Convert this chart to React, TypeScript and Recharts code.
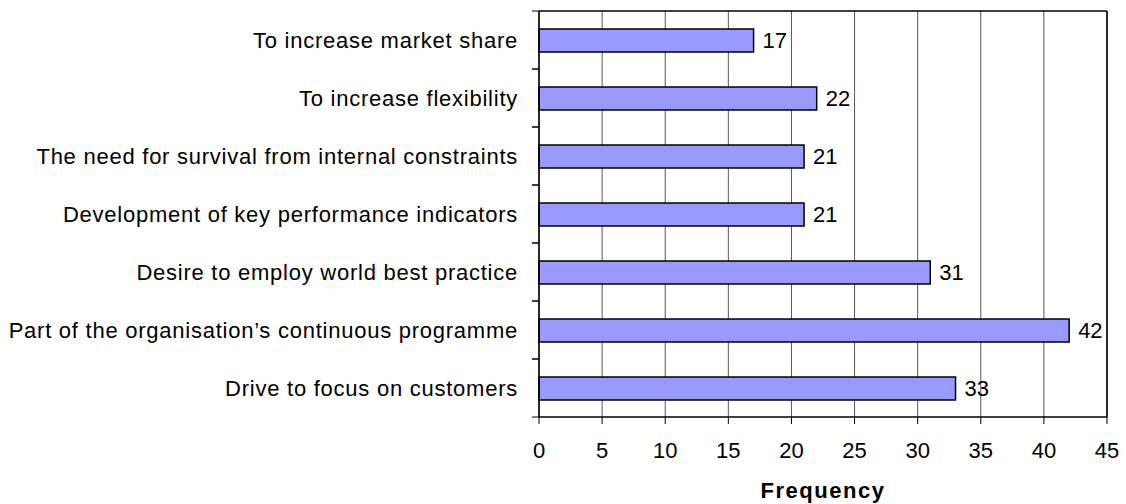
import React from 'react';
import { BarChart, Bar, XAxis, YAxis, CartesianGrid, LabelList } from 'recharts';

const categories = [
  'To increase market share',
  'To increase flexibility',
  'The need for survival from internal constraints',
  'Development of key performance indicators',
  'Desire to employ world best practice',
  'Part of the organisation\u2019s continuous programme',
  'Drive to focus on customers',
];
const frequencies = [17, 22, 21, 21, 31, 42, 33];
const xTicks = [0, 5, 10, 15, 20, 25, 30, 35, 40, 45];

const data = categories.map((name, i) => ({ name, value: frequencies[i] }));

const W = 1126;
const H = 504;
const M = { top: 11, right: 19, bottom: 0, left: 0 };
const Y_W = 539;
const X_H = 87;
const PLOT_H = H - M.top - M.bottom - X_H;
const BAND = PLOT_H / categories.length;
const FONT = '"Liberation Sans", Arial, sans-serif';

const CatTick = (props: any) => {
  const { x, y, payload } = props;
  const ax = x + 21;
  return (
    <g>
      <line x1={ax - 7} x2={ax} y1={y - BAND / 2} y2={y - BAND / 2} stroke="#000" strokeWidth={1} />
      <line x1={ax - 7} x2={ax} y1={y + BAND / 2} y2={y + BAND / 2} stroke="#000" strokeWidth={1} />
      <text x={x} y={y} dy="0.355em" textAnchor="end" fontSize={22} letterSpacing={0.75} fontFamily={FONT} fill="#000">
        {payload.value}
      </text>
    </g>
  );
};

export default function App() {
  return (
    <div style={{ position: 'absolute', left: 0, top: 0, background: '#fff' }}>
      <BarChart width={W} height={H} data={data} layout="vertical" margin={M} barSize={23}>
        <CartesianGrid horizontal={false} vertical={true} stroke="#555" strokeWidth={1} />
        <CartesianGrid
          horizontalPoints={[M.top]}
          verticalPoints={[W - M.right]}
          stroke="#000"
          strokeWidth={1.5}
        />
        <XAxis
          type="number"
          dataKey="value"
          domain={[0, 45]}
          ticks={xTicks}
          interval={0}
          height={X_H}
          tickSize={7}
          tickMargin={18}
          axisLine={{ stroke: '#000', strokeWidth: 1.5 }}
          tickLine={{ stroke: '#000', strokeWidth: 1 }}
          tick={{ fontSize: 22, fill: '#000', fontFamily: FONT }}
          label={{
            value: 'Frequency',
            position: 'insideBottom',
            offset: 6,
            fontSize: 22,
            fontWeight: 'bold',
            fill: '#000',
            fontFamily: FONT,
            letterSpacing: 1.5,
          }}
        />
        <YAxis
          type="category"
          dataKey="name"
          width={Y_W}
          interval={0}
          tickLine={false}
          tickSize={0}
          tickMargin={21}
          axisLine={{ stroke: '#000', strokeWidth: 1.5 }}
          tick={<CatTick />}
        />
        <Bar dataKey="value" fill="#9999FF" stroke="#000" strokeWidth={1.5} isAnimationActive={false}>
          <LabelList dataKey="value" position="right" offset={9} fontSize={22} fill="#000" fontFamily={FONT} />
        </Bar>
      </BarChart>
    </div>
  );
}
